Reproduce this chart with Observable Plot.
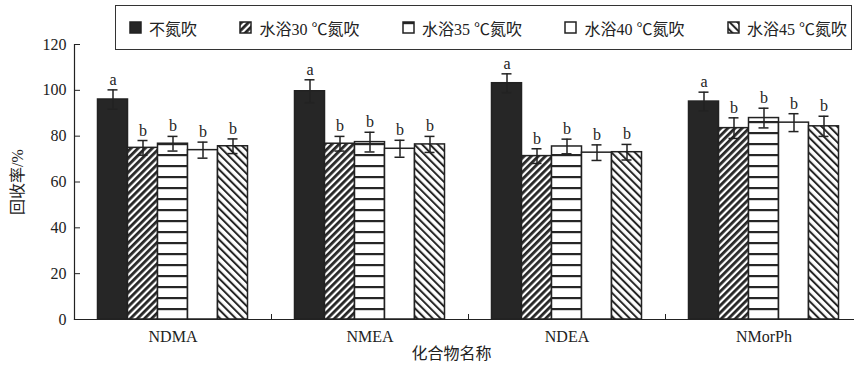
<!DOCTYPE html>
<html>
<head>
<meta charset="utf-8">
<script src="https://cdn.jsdelivr.net/npm/d3@7"></script>
<script src="https://cdn.jsdelivr.net/npm/@observablehq/plot@0.6"></script>
<style>
  html, body { margin: 0; padding: 0; background: #fff; overflow: hidden; }
  #wrap { position: relative; width: 854px; height: 374px; overflow: hidden; }
  #legend {
    position: absolute; left: 115px; top: 5px; width: 737px; height: 45px;
    box-sizing: border-box; border: 1.5px solid #333; background: #fff;
    padding: 0 4px 0 14px; display: flex; align-items: center;
  }
  #legend > div { width: 100%; }
  #legend .lg-swatches {
    display: flex; justify-content: space-between; align-items: center; width: 100%;
    font: 16px "Liberation Serif", "Noto Sans CJK SC", serif; color: #222; min-height: 0; margin: 0;
  }
  #legend .lg-swatch { margin: 0; }
  #legend .lg-swatch svg { margin-right: 8px; overflow: visible; }
  #legend .lg-swatch svg rect { stroke: #222; stroke-width: 1.5px; }
</style>
</head>
<body>
<!-- fill patterns shared by the bars and the legend swatches -->
<svg width="0" height="0" style="position:absolute">
  <defs>
    <pattern id="hatch30" patternUnits="userSpaceOnUse" width="5" height="5" patternTransform="rotate(45)">
      <rect width="5" height="5" fill="#fff"></rect>
      <rect width="2.8" height="5" fill="#262626"></rect>
    </pattern>
    <pattern id="stripe35" patternUnits="userSpaceOnUse" width="10" height="11">
      <rect width="10" height="11" fill="#fff"></rect>
      <rect width="10" height="2.2" fill="#262626"></rect>
    </pattern>
    <pattern id="hatch45" patternUnits="userSpaceOnUse" width="5.5" height="5.5" patternTransform="rotate(-45)">
      <rect width="5.5" height="5.5" fill="#fff"></rect>
      <rect width="2" height="5.5" fill="#262626"></rect>
    </pattern>
  </defs>
</svg>
<div id="wrap">
  <div id="chart"></div>
  <div id="legend"></div>
</div>
<script>
// Compounds on the x axis and the five nitrogen-blowing treatments
const compounds = ["NDMA", "NMEA", "NDEA", "NMorPh"];
const series = ["不氮吹", "水浴30 ℃氮吹", "水浴35 ℃氮吹", "水浴40 ℃氮吹", "水浴45 ℃氮吹"];

// Mean recovery (%) per treatment, in compound order
const noBlow = [96.0, 99.6, 103.1, 95.1];
const bath30 = [74.9, 76.7, 71.3, 83.5];
const bath35 = [76.7, 77.4, 75.5, 87.9];
const bath40 = [73.9, 74.5, 72.8, 85.9];
const bath45 = [75.6, 76.4, 73.0, 84.3];

// Standard deviations, same layout
const sdNoBlow = [4.2, 5.0, 4.1, 4.1];
const sdBath30 = [3.2, 3.2, 3.2, 4.5];
const sdBath35 = [3.2, 4.3, 3.2, 4.3];
const sdBath40 = [3.5, 3.7, 3.4, 3.9];
const sdBath45 = [3.2, 3.5, 3.4, 4.4];

// Significance letters
const letNoBlow = ["a", "a", "a", "a"];
const letBath30 = ["b", "b", "b", "b"];
const letBath35 = ["b", "b", "b", "b"];
const letBath40 = ["b", "b", "b", "b"];
const letBath45 = ["b", "b", "b", "b"];

const yTicks = [0, 20, 40, 60, 80, 100, 120];

const fills = ["#262626", "url(#hatch30)", "url(#stripe35)", "#ffffff", "url(#hatch45)"];
const FONT = '"Liberation Serif", "Noto Sans CJK SC", serif';

const means = [noBlow, bath30, bath35, bath40, bath45];
const sds = [sdNoBlow, sdBath30, sdBath35, sdBath40, sdBath45];
const letters = [letNoBlow, letBath30, letBath35, letBath40, letBath45];

const rows = compounds.flatMap((c, i) =>
  series.map((s, j) => ({compound: c, series: s, mean: means[j][i], sd: sds[j][i], letter: letters[j][i]}))
);

const W = 863, H = 374, mL = 72.5, mR = 0.5, mT = 44, mB = 55;
const innerH = H - mT - mB;
const ink = "#222";

const chart = Plot.plot({
  width: W, height: H,
  marginLeft: mL, marginRight: mR, marginTop: mT, marginBottom: mB,
  style: {fontFamily: FONT, fontSize: "16px", color: ink, overflow: "visible", maxWidth: "none", background: "transparent"},
  fx: {domain: compounds, padding: 0, axis: null, label: null},
  x: {domain: series, paddingInner: 0, paddingOuter: 0.705, axis: null},
  y: {domain: [0, 120], axis: null},
  color: {domain: series, range: fills},
  marks: [
    Plot.barY(rows, {fx: "compound", x: "series", y: "mean", fill: "series", stroke: ink, strokeWidth: 1.5}),
    // error bars (mean ± sd) with caps
    Plot.ruleX(rows, {fx: "compound", x: "series", y1: d => d.mean - d.sd, y2: d => d.mean + d.sd, stroke: ink, strokeWidth: 1.5}),
    Plot.tickY(rows, {fx: "compound", x: "series", y: d => d.mean + d.sd, insetLeft: 10, insetRight: 10, stroke: ink, strokeWidth: 1.5}),
    Plot.tickY(rows, {fx: "compound", x: "series", y: d => d.mean - d.sd, insetLeft: 10, insetRight: 10, stroke: ink, strokeWidth: 1.5}),
    // significance letters above the error bars
    Plot.text(rows, {fx: "compound", x: "series", y: d => d.mean + d.sd, text: "letter", lineAnchor: "bottom", dy: -5, fill: ink, fontSize: 16}),
    // axis lines and small ticks between compound groups
    Plot.frame({anchor: "bottom", facet: "super", stroke: ink, strokeWidth: 1.2}),
    Plot.frame({anchor: "left", facet: "super", stroke: ink, strokeWidth: 1.2}),
    Plot.frame({anchor: "left", insetTop: innerH - 5, stroke: ink, strokeWidth: 1}),
    Plot.axisY({ticks: yTicks, tickSize: -6, tickPadding: 14, stroke: ink, fill: ink, fontSize: 16,
      label: "回收率/%", labelAnchor: "center", labelOffset: 63, labelArrow: "none"}),
    Plot.axisFx({anchor: "bottom", tickSize: 0, tickPadding: 11, label: null, fill: ink, fontSize: 16}),
    Plot.text(["化合物名称"], {frameAnchor: "bottom", facet: "super", dy: 39, dx: -17, fill: ink, fontSize: 16})
  ]
});
document.getElementById("chart").appendChild(chart);

const legend = Plot.legend({
  color: {domain: series, range: fills},
  legend: "swatches", swatchSize: 11, className: "lg"
});
document.getElementById("legend").appendChild(legend);
</script>
</body>
</html>
